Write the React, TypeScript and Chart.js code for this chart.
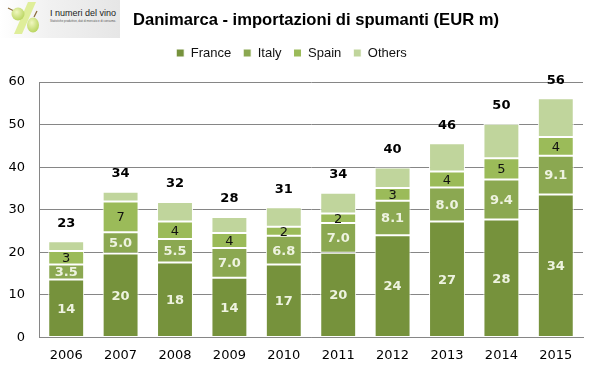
import React, { useEffect, useRef } from "react";
import { Chart, registerables } from "chart.js";

Chart.register(...registerables);

const years = ["2006", "2007", "2008", "2009", "2010", "2011", "2012", "2013", "2014", "2015"];
const france = [13.6, 19.7, 17.6, 14.0, 17.1, 19.9, 24.0, 27.2, 27.7, 33.6];
const italy = [3.5, 5.0, 5.5, 7.0, 6.8, 7.0, 8.1, 8.0, 9.4, 9.1];
const spain = [3.2, 7.2, 4.1, 3.5, 2.1, 2.2, 3.0, 3.8, 5.0, 4.4];
const others = [2.3, 2.3, 4.6, 3.8, 4.6, 4.9, 4.8, 6.6, 8.1, 9.1];
const yTicks = [0, 10, 20, 30, 40, 50, 60];

const titleText = "Danimarca - importazioni di spumanti (EUR m)";

const labelPlugin = {
  id: "barLabels",
  afterDatasetsDraw(chart: any) {
    const ctx = chart.ctx;
    ctx.save();
    ctx.textAlign = "center";
    ctx.textBaseline = "middle";
    chart.data.datasets.forEach((ds: any, di: number) => {
      const meta = chart.getDatasetMeta(di);
      meta.data.forEach((bar: any, i: number) => {
        const v = ds.data[i];
        const cy = (bar.y + bar.base) / 2;
        if (di === 0) {
          ctx.fillStyle = "#EEF3E0";
          ctx.font = "bold 13px 'DejaVu Sans'";
          ctx.fillText(String(Math.round(v)), bar.x, cy + 1);
        } else if (di === 1) {
          ctx.fillStyle = "#EEF3E0";
          ctx.font = "bold 13px 'DejaVu Sans'";
          ctx.fillText(v.toFixed(1), bar.x, cy + 1);
        } else if (di === 2) {
          ctx.fillStyle = "#111";
          ctx.font = "13px 'DejaVu Sans'";
          ctx.fillText(String(Math.round(v)), bar.x, cy + 1);
        }
      });
    });
    const lastMeta = chart.getDatasetMeta(chart.data.datasets.length - 1);
    lastMeta.data.forEach((bar: any, i: number) => {
      const total = france[i] + italy[i] + spain[i] + others[i];
      ctx.fillStyle = "#000";
      ctx.font = "bold 13px 'DejaVu Sans'";
      ctx.fillText(String(Math.round(total)), bar.x, bar.y - 18);
    });
    ctx.restore();
  },
};

const titlePlugin = {
  id: "customTitle",
  afterDraw(chart: any) {
    const ctx = chart.ctx;
    ctx.save();
    ctx.fillStyle = "#000";
    ctx.font = "bold 16.6px 'Liberation Sans', Arial, sans-serif";
    ctx.textAlign = "left";
    ctx.textBaseline = "middle";
    ctx.fillText(titleText, 133, 20);
    ctx.restore();
  },
};

function Logo() {
  return (
    <svg width={120} height={38} style={{ position: "absolute", left: 0, top: 0 }}>
      <defs>
        <linearGradient id="lg" x1="0" y1="0" x2="1" y2="0">
          <stop offset="0" stopColor="#ffffff" />
          <stop offset="0.4" stopColor="#f1f1f1" />
          <stop offset="1" stopColor="#e6e6e6" />
        </linearGradient>
        <radialGradient id="gr" cx="0.4" cy="0.35" r="0.7">
          <stop offset="0" stopColor="#f0f7c0" />
          <stop offset="1" stopColor="#b6d35a" />
        </radialGradient>
      </defs>
      <rect x={0} y={0} width={120} height={38} fill="url(#lg)" />
      <polygon points="28,2 36,2 22,34 14,34" fill="#dfee9a" />
      <line x1="8" y1="8" x2="14" y2="11" stroke="#8a6a3a" strokeWidth="1.2" />
      <circle cx={18} cy={14} r={6.5} fill="url(#gr)" />
      <line x1="37" y1="11" x2="34" y2="17" stroke="#8a6a3a" strokeWidth="1.2" />
      <ellipse cx={33} cy={25} rx={6} ry={7.5} fill="url(#gr)" />
      <text x={50} y={16} fontFamily="'Liberation Sans', Arial" fontSize={9.5} fill="#222" textLength={66} lengthAdjust="spacingAndGlyphs">
        I numeri del vino
      </text>
      <text x={50} y={22} fontFamily="'Liberation Sans', Arial" fontSize={3} fill="#555" textLength={66} lengthAdjust="spacingAndGlyphs">
        Statistiche produttive, dati di mercato e di consumo.
      </text>
    </svg>
  );
}

export default function App() {
  const ref = useRef<HTMLCanvasElement | null>(null);

  useEffect(() => {
    document.body.style.margin = "0";
    const canvas = ref.current;
    if (!canvas) return;
    const chart = new Chart(canvas, {
      type: "bar",
      data: {
        labels: years,
        datasets: [
          { label: "France", data: france, backgroundColor: "#76923C" },
          { label: "Italy", data: italy, backgroundColor: "#8BA851" },
          { label: "Spain", data: spain, backgroundColor: "#9BBB59" },
          { label: "Others", data: others, backgroundColor: "#C0D59C" },
        ].map((d) => ({
          ...d,
          borderColor: "#ffffff",
          borderWidth: 1,
          borderSkipped: false,
          barPercentage: 0.66,
          categoryPercentage: 1,
        })),
      },
      options: {
        responsive: false,
        animation: false,
        layout: { padding: { top: 34.5, right: 14, left: 0, bottom: 0 } },
        plugins: {
          title: { display: false },
          subtitle: {
            display: true,
            text: "",
            position: "top",
            weight: 500,
            padding: 0,
            font: { size: 10, lineHeight: 1.25 },
          },
          tooltip: { enabled: false },
          legend: {
            display: true,
            position: "top",
            labels: {
              boxWidth: 8,
              boxHeight: 8,
              padding: 12,
              color: "#111",
              font: { family: "'Liberation Sans', Arial, sans-serif", size: 13 },
            },
          },
        },
        scales: {
          x: {
            stacked: true,
            grid: { display: false, drawTicks: false },
            border: { display: true, color: "#868686" },
            ticks: {
              color: "#000",
              padding: 10,
              font: { family: "'DejaVu Sans'", size: 13 },
            },
          },
          y: {
            stacked: true,
            min: 0,
            max: 60,
            afterBuildTicks: (axis: any) => {
              axis.ticks = yTicks.map((v) => ({ value: v }));
            },
            afterFit: (axis: any) => {
              axis.width = 39;
            },
            grid: { color: "#868686", drawTicks: false },
            border: { display: true, color: "#868686" },
            ticks: {
              color: "#000",
              padding: 14,
              font: { family: "'DejaVu Sans'", size: 13 },
            },
          },
        },
      },
      plugins: [labelPlugin, titlePlugin],
    });
    return () => chart.destroy();
  }, []);

  return (
    <div style={{ position: "relative", width: 597, height: 373 }}>
      <canvas ref={ref} width={597} height={373} style={{ display: "block" }} />
      <Logo />
    </div>
  );
}
